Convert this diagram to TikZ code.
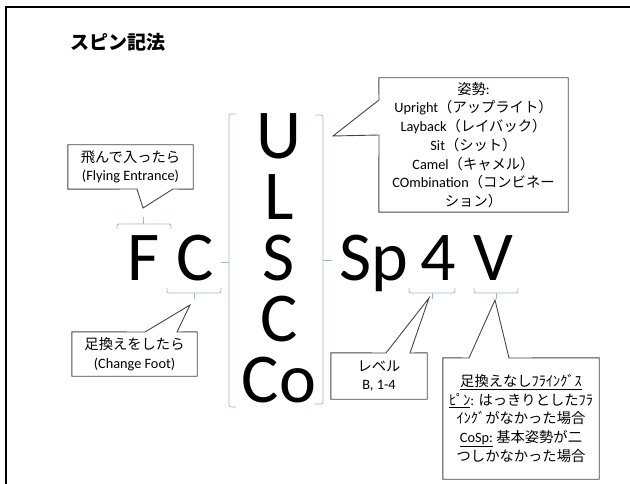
\documentclass[tikz,border=0pt]{standalone}
\usepackage{fontspec}
\setmainfont{Carlito}
\newfontfamily\jp{Noto Sans CJK JP}
\definecolor{bracketblue}{RGB}{150,185,225}
\definecolor{calloutgray}{RGB}{70,70,70}
\begin{document}
\begin{tikzpicture}[x=1pt,y=-1pt,
  bracket/.style={draw=bracketblue, line width=0.8pt},
  brk/.style={bracket, rounded corners=2pt},
  callout/.style={draw=calloutgray, line width=0.9pt, line join=miter},
  note/.style={font=\fontsize{14.3}{18.7}\selectfont, align=center, inner sep=0pt},
  big/.style={font=\fontsize{70}{61}\selectfont, anchor=base, inner sep=0pt},
]
\useasboundingbox (0,0) rectangle (630,484);
\draw[line width=2pt] (630,7) -- (6,7) -- (6,484);

% title
\node[inner sep=0pt, font=\jp\bfseries\fontsize{19}{22}\selectfont] (title) at (118,42) {スピン記法};

% big letters
\node[big] (F) at (143.5,280) {F};
\node[big] (C1) at (195,280) {C};
\node[big, align=center] (col) at (279,402) {U\\L\\S\\C\\Co};
\node[big] (Sp) at (374,280) {Sp};
\node[big] (four) at (438.5,280) {4};
\node[big] (V) at (493,280) {V};

% brackets
\draw[brk] (117,229) -- (117,224) -- (171,224) -- (171,229);
\draw[bracket] (143,224) -- (143,217);
\draw[brk] (167,288) -- (167,293) -- (221,293) -- (221,288);
\draw[bracket] (194,293) -- (194,299);
\draw[brk] (409,288) -- (409,293) -- (455,293) -- (455,288);
\draw[bracket] (432,293) -- (432,299);
\draw[brk] (474,288) -- (474,293) -- (518,293) -- (518,288);
\draw[bracket] (496,293) -- (496,299);
\draw[brk] (236,114) -- (229,114) -- (229,407) -- (236,407);
\draw[bracket] (229,262) -- (221,262);
\draw[brk] (315,115) -- (323,115) -- (323,404) -- (314,404);
\draw[bracket] (323,260) -- (332,260);

% callout 1
\node[note, minimum width=125pt, minimum height=44pt] (fe) at (130.5,167)
  {{\jp 飛んで入ったら}\\(Flying Entrance)};
\coordinate (fetip) at (143,208);
\draw[callout] (fe.north west) -- (fe.north east) -- (fe.south east) -- (173,189) -- (fetip) -- (137,189) -- (fe.south west) -- cycle;

% callout 2
\node[note, minimum width=125pt, minimum height=44pt] (cf) at (134.5,354)
  {{\jp 足換えをしたら}\\(Change Foot)};
\coordinate (cftip) at (190,305);
\draw[callout] (cf.south west) -- (cf.north west) -- (145,332) -- (cftip) -- (177,332) -- (cf.north east) -- (cf.south east) -- cycle;

% callout posture
\node[note, minimum width=189pt, minimum height=134pt] (pos) at (473.5,145)
  {{\jp 姿勢}:\\
   Upright{\jp （アップライト）}\\
   Layback{\jp （レイバック）}\\
   Sit{\jp （シット）}\\
   Camel{\jp （キャメル）}\\
   COmbination{\jp （コンビネー}\\
   {\jp ション）}};
\coordinate (postip) at (333,136);
\draw[callout] (pos.north west) -- (pos.north east) -- (pos.south east) -- (pos.south west) -- (379,135) -- (postip) -- (379,100) -- cycle;

% callout level
\node[note, minimum width=96pt, minimum height=46pt] (lv) at (379,376)
  {{\jp レベル}\\B, 1-4};
\coordinate (lvtip) at (429,298);
\draw[callout] (lv.south west) -- (lv.north west) -- (386,353) -- (lvtip) -- (410,353) -- (lv.north east) -- (lv.south east) -- cycle;

% callout V
\node[note, minimum width=156pt, minimum height=121pt] (vv) at (521,418.5)
  {\underline{\jp 足換えなしﾌﾗｲﾝｸﾞｽ}\\
   \underline{\jp ﾋﾟﾝ}: {\jp はっきりとしたﾌﾗ}\\
   {\jp ｲﾝｸﾞがなかった場合}\\
   \underline{CoSp:} {\jp 基本姿勢が二}\\
   {\jp つしかなかった場合}};
\coordinate (vvtip) at (495,300);
\draw[callout] (vv.south west) -- (vv.north west) -- (469,358) -- (vvtip) -- (509,358) -- (vv.north east) -- (vv.south east) -- cycle;
\end{tikzpicture}
\end{document}
